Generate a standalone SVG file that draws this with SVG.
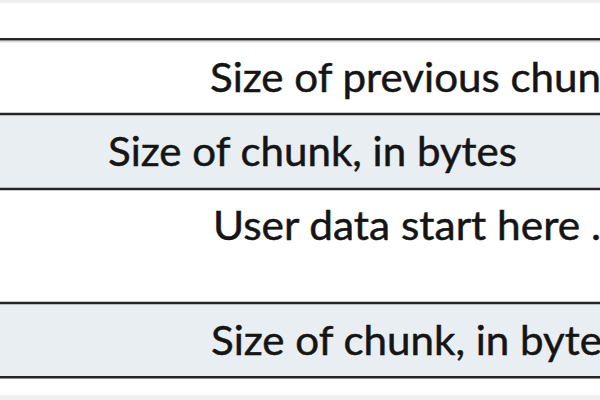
<svg xmlns="http://www.w3.org/2000/svg" width="600" height="400" viewBox="0 0 600 400">
  <style>
    .strip { fill: #efefef; }
    .white { fill: #ffffff; }
    .blue { fill: #e8eef2; }
    .rule { stroke: #262626; stroke-width: 2.5; fill: none; }
    .shadow { stroke: #c8c8c8; stroke-width: 1; fill: none; }
    .label { font-family: Lato, "Open Sans", "Liberation Sans", sans-serif; font-size: 41px; fill: #151515; stroke: #151515; stroke-width: 0.5; }
  </style>
  <rect x="0" y="0" width="600" height="400" class="white"/>
  <rect x="0" y="0" width="600" height="3" class="strip"/>
  <rect x="0" y="395" width="600" height="5" class="strip"/>

  <g id="row-prev-size">
    <rect x="0" y="40" width="600" height="73" class="white"/>
    <text class="label" x="210" y="92" textLength="391" lengthAdjust="spacingAndGlyphs">Size of previous chun</text>
  </g>
  <g id="row-size">
    <rect x="0" y="115" width="600" height="73" class="blue"/>
    <text class="label" x="108" y="166" textLength="409" lengthAdjust="spacingAndGlyphs">Size of chunk, in bytes</text>
  </g>
  <g id="row-user-data">
    <rect x="0" y="190" width="600" height="112" class="white"/>
    <text class="label" x="213" y="240" textLength="388" lengthAdjust="spacingAndGlyphs">User data start here .</text>
  </g>
  <g id="row-size-footer">
    <rect x="0" y="304" width="600" height="72" class="blue"/>
    <text class="label" x="211" y="355" textLength="391" lengthAdjust="spacingAndGlyphs">Size of chunk, in byte</text>
  </g>

  <g id="rules">
    <line x1="0" y1="41.8" x2="600" y2="41.8" class="shadow"/>
    <line x1="0" y1="39.2" x2="600" y2="39.2" class="rule"/>
    <line x1="0" y1="114" x2="600" y2="114" class="rule"/>
    <line x1="0" y1="189" x2="600" y2="189" class="rule"/>
    <line x1="0" y1="303" x2="600" y2="303" class="rule"/>
    <line x1="0" y1="377.3" x2="600" y2="377.3" class="rule"/>
  </g>
</svg>
